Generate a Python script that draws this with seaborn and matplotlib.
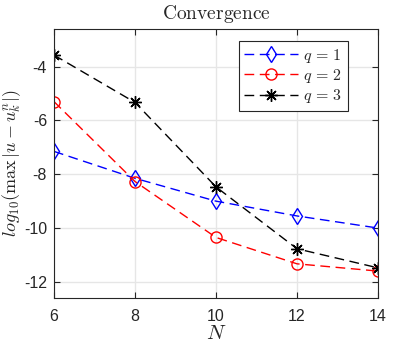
import numpy as np
import pandas as pd
import seaborn as sns
import matplotlib
matplotlib.use("Agg")
import matplotlib.pyplot as plt

# Valeurs
N = [6, 8, 10, 12, 14]
err_q1 = [-7.15, -8.15, -9.0, -9.55, -10.0]
err_q2 = [-5.3, -8.27, -10.35, -11.33, -11.6]
err_q3 = [-3.57, -5.33, -8.47, -10.77, -11.48]
labels = [r"$q\,=\,1$", r"$q\,=\,2$", r"$q\,=\,3$"]

sns.set_theme(style="ticks")
plt.rcParams["font.family"] = ["Liberation Sans", "DejaVu Sans"]
plt.rcParams["mathtext.fontset"] = "cm"

fig = plt.figure(figsize=(4.17, 3.48), dpi=100)
ax = fig.add_axes([0.1295, 0.1437, 0.777, 0.773])

series = [
    (err_q1, "#0000ff", "d", 8),
    (err_q2, "#ff0000", "o", 8),
    (err_q3, "#000000", (8, 2, 0), 9),
]
for (vals, col, mk, ms), lab in zip(series, labels):
    sns.lineplot(x=N, y=vals, ax=ax, color=col, marker=mk, markersize=ms,
                 markerfacecolor="none", markeredgecolor=col, markeredgewidth=1.0,
                 linestyle=(0, (7, 4)), linewidth=1.0, label=lab)

ax.set_xlim(6, 14)
ax.set_ylim(-12.6, -2.6)
ax.set_xticks([6, 8, 10, 12, 14])
ax.set_yticks([-12, -10, -8, -6, -4])
ax.set_yticklabels(["-12", "-10", "-8", "-6", "-4"])
ax.grid(True, color="#e6e6e6", linewidth=1.0)
ax.set_axisbelow(True)
ax.tick_params(direction="in", length=4, width=0.8, labelsize=11.5,
               colors="#262626", top=True, right=True)
ax.tick_params(axis="x", pad=8)
ax.tick_params(axis="y", pad=5)
for s in ax.spines.values():
    s.set_color("#262626")
    s.set_linewidth(0.8)

ax.set_title(r"$\mathrm{Convergence}$", fontsize=14, color="#262626", pad=7)
ax.set_xlabel(r"$N$", fontsize=15, color="#262626", labelpad=0)
ax.set_ylabel(r"$log_{10}(\max\,|u-u_k^n|)$", fontsize=13, color="#262626", labelpad=1)

leg = ax.legend(loc="upper right", bbox_to_anchor=(0.907, 0.955), borderaxespad=0,
                fontsize=11.5, frameon=True, fancybox=False, framealpha=1,
                edgecolor="#262626", handlelength=3.4, handletextpad=0.3,
                borderpad=0.35, labelspacing=0.15)
leg.get_frame().set_linewidth(0.8)

fig.savefig("out.png", dpi=100)
